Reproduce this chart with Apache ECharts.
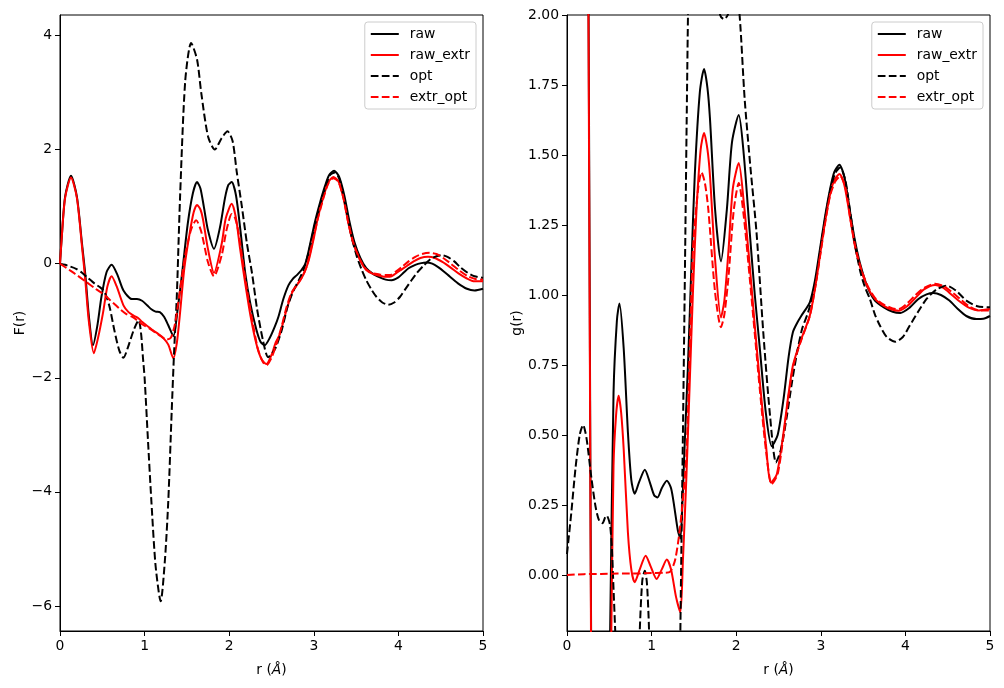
<!DOCTYPE html>
<html>
<head>
<meta charset="utf-8">
<script src="https://cdn.jsdelivr.net/npm/echarts@6/dist/echarts.min.js"></script>
<style>
  html, body { margin: 0; padding: 0; background: #fff; }
  #main { width: 1004px; height: 688px; }
</style>
</head>
<body>
<div id="main"></div>
<script>
// ---- data: [r, value] ----
var names = ['raw', 'raw_extr', 'opt', 'extr_opt'];
var xTicks = [0, 1, 2, 3, 4, 5];
var fTicks = [-6, -4, -2, 0, 2, 4];
var gTicks = [0, 0.25, 0.5, 0.75, 1, 1.25, 1.5, 1.75, 2];

// left panel, F(r)
var rawF = [[0,0],[0.02,0.45],[0.06,1.17],[0.13,1.54],[0.2,1.17],[0.26,0.35],[0.3,-0.2],[0.34,-0.9],[0.39,-1.43],[0.44,-1.1],[0.49,-0.58],[0.55,-0.15],[0.61,-0.02],[0.68,-0.2],[0.75,-0.47],[0.85,-0.62],[0.91,-0.62],[0.97,-0.65],[1.03,-0.73],[1.08,-0.8],[1.13,-0.84],[1.18,-0.85],[1.23,-0.93],[1.28,-1.08],[1.34,-1.27],[1.39,-0.81],[1.45,-0.08],[1.51,0.7],[1.57,1.23],[1.62,1.43],[1.66,1.32],[1.7,1.0],[1.75,0.58],[1.82,0.26],[1.89,0.63],[1.95,1.15],[1.99,1.38],[2.03,1.43],[2.08,1.2],[2.13,0.62],[2.19,-0.17],[2.25,-0.7],[2.32,-1.15],[2.37,-1.37],[2.42,-1.43],[2.48,-1.3],[2.54,-1.1],[2.58,-0.94],[2.64,-0.62],[2.7,-0.38],[2.75,-0.27],[2.8,-0.2],[2.85,-0.12],[2.9,0.0],[2.95,0.3],[3.01,0.71],[3.07,1.05],[3.13,1.35],[3.18,1.55],[3.24,1.63],[3.3,1.52],[3.36,1.2],[3.42,0.75],[3.48,0.38],[3.55,0.1],[3.62,-0.08],[3.7,-0.18],[3.78,-0.24],[3.85,-0.28],[3.92,-0.29],[4.0,-0.24],[4.06,-0.16],[4.12,-0.08],[4.2,-0.02],[4.27,0.01],[4.33,0.02],[4.4,0.0],[4.47,-0.06],[4.54,-0.14],[4.61,-0.23],[4.7,-0.34],[4.81,-0.44],[4.9,-0.47],[5.0,-0.44]];
var rawExtrF = [[0,0],[0.02,0.45],[0.06,1.15],[0.13,1.51],[0.2,1.15],[0.26,0.3],[0.3,-0.3],[0.34,-1.0],[0.4,-1.57],[0.45,-1.3],[0.51,-0.85],[0.56,-0.4],[0.61,-0.22],[0.67,-0.4],[0.75,-0.73],[0.81,-0.85],[0.87,-0.91],[0.93,-0.96],[0.97,-1.02],[1.04,-1.1],[1.1,-1.17],[1.16,-1.23],[1.22,-1.3],[1.28,-1.42],[1.34,-1.66],[1.38,-1.4],[1.41,-1.0],[1.47,-0.08],[1.53,0.51],[1.58,0.9],[1.62,1.03],[1.66,0.95],[1.69,0.78],[1.75,0.25],[1.82,-0.16],[1.91,0.34],[1.96,0.8],[2.03,1.05],[2.08,0.8],[2.13,0.25],[2.19,-0.35],[2.25,-0.9],[2.32,-1.4],[2.38,-1.67],[2.44,-1.76],[2.5,-1.6],[2.55,-1.38],[2.6,-1.23],[2.67,-0.85],[2.74,-0.52],[2.79,-0.4],[2.84,-0.29],[2.89,-0.15],[2.94,0.06],[3.0,0.45],[3.05,0.82],[3.11,1.15],[3.17,1.42],[3.23,1.52],[3.29,1.45],[3.35,1.15],[3.41,0.7],[3.47,0.35],[3.55,0.05],[3.62,-0.11],[3.7,-0.18],[3.78,-0.21],[3.85,-0.23],[3.9,-0.23],[3.97,-0.17],[4.04,-0.1],[4.1,-0.04],[4.18,0.04],[4.26,0.1],[4.35,0.12],[4.43,0.1],[4.52,0.03],[4.61,-0.06],[4.71,-0.17],[4.81,-0.26],[4.9,-0.31],[5.0,-0.31]];
var optF = [[0,0],[0.06,-0.02],[0.12,-0.05],[0.19,-0.09],[0.26,-0.16],[0.33,-0.25],[0.41,-0.35],[0.47,-0.41],[0.51,-0.46],[0.55,-0.58],[0.59,-0.78],[0.64,-1.15],[0.7,-1.52],[0.75,-1.65],[0.8,-1.48],[0.87,-1.17],[0.93,-0.99],[0.96,-1.25],[0.98,-1.64],[1.0,-2.0],[1.04,-3.1],[1.08,-4.16],[1.13,-5.3],[1.19,-5.92],[1.24,-5.2],[1.28,-4.16],[1.32,-2.6],[1.35,-1.5],[1.38,-0.6],[1.42,1.2],[1.48,3.2],[1.55,3.87],[1.62,3.58],[1.67,2.99],[1.75,2.23],[1.83,2.0],[1.91,2.2],[1.98,2.32],[2.04,2.15],[2.09,1.6],[2.15,1.0],[2.21,0.35],[2.27,-0.17],[2.33,-0.8],[2.4,-1.35],[2.46,-1.64],[2.54,-1.5],[2.62,-1.17],[2.69,-0.75],[2.76,-0.47],[2.82,-0.3],[2.88,-0.1],[2.94,0.2],[3.0,0.6],[3.07,1.0],[3.13,1.3],[3.19,1.55],[3.25,1.6],[3.31,1.45],[3.39,0.9],[3.45,0.45],[3.51,0.12],[3.57,-0.12],[3.62,-0.29],[3.68,-0.45],[3.74,-0.58],[3.81,-0.68],[3.88,-0.72],[3.95,-0.68],[4.02,-0.58],[4.08,-0.45],[4.15,-0.3],[4.22,-0.16],[4.3,-0.03],[4.38,0.08],[4.45,0.13],[4.51,0.15],[4.58,0.12],[4.66,0.04],[4.73,-0.06],[4.82,-0.16],[4.9,-0.22],[5.0,-0.25]];
var extrOptF = [[0,0],[0.1,-0.1],[0.18,-0.18],[0.3,-0.31],[0.41,-0.43],[0.47,-0.49],[0.53,-0.55],[0.6,-0.65],[0.66,-0.73],[0.71,-0.8],[0.78,-0.88],[0.85,-0.93],[0.91,-0.99],[0.98,-1.07],[1.05,-1.13],[1.12,-1.2],[1.19,-1.27],[1.26,-1.33],[1.31,-1.3],[1.36,-1.05],[1.42,-0.45],[1.48,0.15],[1.55,0.6],[1.61,0.76],[1.67,0.56],[1.75,0.02],[1.82,-0.22],[1.91,0.14],[1.97,0.6],[2.03,0.87],[2.07,0.8],[2.11,0.55],[2.15,0.15],[2.21,-0.45],[2.28,-1.05],[2.34,-1.5],[2.4,-1.73],[2.44,-1.78],[2.5,-1.65],[2.56,-1.4],[2.62,-1.1],[2.68,-0.75],[2.74,-0.5],[2.8,-0.37],[2.86,-0.24],[2.92,-0.03],[2.98,0.35],[3.05,0.8],[3.11,1.13],[3.17,1.4],[3.23,1.5],[3.29,1.44],[3.35,1.15],[3.41,0.7],[3.47,0.35],[3.55,0.06],[3.62,-0.1],[3.7,-0.17],[3.78,-0.19],[3.85,-0.2],[3.9,-0.2],[3.97,-0.14],[4.04,-0.06],[4.12,0.04],[4.2,0.12],[4.28,0.17],[4.37,0.19],[4.45,0.17],[4.53,0.1],[4.62,0.0],[4.72,-0.12],[4.82,-0.22],[4.91,-0.27],[5.0,-0.28]];

// right panel, g(r)
var rawG = [[0.06,19],[0.13,11.9],[0.2,6.4],[0.24,3.0],[0.255,2.0],[0.27,0.9],[0.285,-0.2],[0.31,-1.0],[0.39,-2.4],[0.45,-1.4],[0.51,-0.2],[0.55,0.65],[0.59,0.91],[0.62,0.97],[0.67,0.81],[0.72,0.51],[0.76,0.34],[0.8,0.29],[0.85,0.33],[0.92,0.376],[0.98,0.33],[1.03,0.285],[1.07,0.277],[1.12,0.31],[1.18,0.337],[1.23,0.31],[1.27,0.24],[1.31,0.16],[1.34,0.13],[1.37,0.3],[1.39,0.46],[1.43,0.75],[1.47,1.1],[1.51,1.426],[1.57,1.724],[1.62,1.807],[1.66,1.74],[1.69,1.63],[1.75,1.307],[1.82,1.12],[1.89,1.307],[1.95,1.545],[2.03,1.643],[2.09,1.5],[2.16,1.224],[2.22,1.0],[2.28,0.807],[2.35,0.58],[2.42,0.46],[2.49,0.5],[2.56,0.63],[2.62,0.78],[2.67,0.867],[2.72,0.9],[2.77,0.926],[2.87,0.974],[2.93,1.05],[2.99,1.164],[3.05,1.28],[3.11,1.379],[3.16,1.44],[3.22,1.465],[3.28,1.42],[3.35,1.29],[3.4,1.2],[3.46,1.117],[3.55,1.03],[3.64,0.98],[3.75,0.955],[3.85,0.94],[3.94,0.936],[4.05,0.955],[4.15,0.985],[4.25,1.002],[4.33,1.007],[4.42,1.0],[4.52,0.98],[4.62,0.95],[4.72,0.925],[4.84,0.914],[4.92,0.915],[5.0,0.925]];
var rawExtrG = [[0.06,19],[0.13,11.6],[0.2,6.3],[0.24,2.8],[0.255,1.9],[0.27,0.8],[0.285,-0.3],[0.31,-1.2],[0.4,-2.6],[0.46,-1.7],[0.52,-0.3],[0.55,0.39],[0.58,0.57],[0.61,0.64],[0.64,0.58],[0.67,0.45],[0.72,0.152],[0.76,0.02],[0.8,-0.026],[0.86,0.02],[0.93,0.069],[0.99,0.03],[1.06,-0.014],[1.12,0.02],[1.18,0.055],[1.23,0.02],[1.29,-0.08],[1.34,-0.133],[1.37,0.05],[1.41,0.34],[1.45,0.68],[1.49,1.02],[1.53,1.3],[1.58,1.52],[1.62,1.579],[1.66,1.52],[1.69,1.426],[1.75,1.129],[1.82,0.92],[1.86,0.98],[1.91,1.164],[1.96,1.38],[2.03,1.471],[2.09,1.33],[2.16,1.105],[2.22,0.89],[2.28,0.688],[2.35,0.47],[2.41,0.33],[2.48,0.36],[2.56,0.51],[2.62,0.65],[2.67,0.748],[2.72,0.8],[2.77,0.843],[2.87,0.926],[2.93,1.02],[2.99,1.14],[3.05,1.26],[3.11,1.36],[3.16,1.41],[3.22,1.432],[3.28,1.39],[3.35,1.27],[3.4,1.18],[3.46,1.105],[3.55,1.03],[3.64,0.986],[3.75,0.96],[3.84,0.948],[3.92,0.944],[4.02,0.96],[4.12,0.99],[4.22,1.02],[4.35,1.036],[4.45,1.025],[4.55,1.0],[4.65,0.975],[4.75,0.955],[4.87,0.945],[5.0,0.95]];
var optG = [[0,0.075],[0.05,0.22],[0.1,0.38],[0.15,0.5],[0.19,0.536],[0.23,0.49],[0.29,0.343],[0.34,0.24],[0.38,0.194],[0.42,0.185],[0.45,0.205],[0.47,0.212],[0.49,0.2],[0.51,0.176],[0.53,0.1],[0.55,-0.05],[0.57,-0.2],[0.6,-0.45],[0.66,-0.9],[0.75,-1.03],[0.8,-0.75],[0.84,-0.45],[0.86,-0.2],[0.89,-0.02],[0.92,0.015],[0.945,-0.03],[0.97,-0.2],[0.99,-0.55],[1.02,-1.2],[1.1,-2.8],[1.19,-3.6],[1.28,-2.0],[1.34,-0.2],[1.37,0.5],[1.39,0.986],[1.43,2.0],[1.48,3.0],[1.55,3.3],[1.62,3.0],[1.7,2.4],[1.76,2.12],[1.81,2.0],[1.855,1.985],[1.9,2.0],[1.95,2.06],[2.0,2.07],[2.04,2.0],[2.1,1.7],[2.17,1.45],[2.24,1.224],[2.32,0.867],[2.4,0.569],[2.47,0.402],[2.53,0.45],[2.6,0.569],[2.66,0.69],[2.72,0.795],[2.78,0.88],[2.85,0.938],[2.93,1.03],[2.99,1.15],[3.05,1.27],[3.11,1.37],[3.17,1.435],[3.23,1.455],[3.29,1.41],[3.35,1.29],[3.41,1.17],[3.47,1.08],[3.52,1.03],[3.58,0.986],[3.64,0.93],[3.7,0.89],[3.78,0.85],[3.88,0.833],[3.97,0.85],[4.05,0.89],[4.15,0.94],[4.25,0.986],[4.37,1.02],[4.49,1.033],[4.6,1.015],[4.72,0.98],[4.85,0.96],[5.0,0.956]];
var extrOptG = [[0,0.0],[0.2,0.003],[0.4,0.004],[0.6,0.005],[0.8,0.005],[1.0,0.007],[1.15,0.008],[1.22,0.012],[1.28,0.056],[1.34,0.18],[1.41,0.42],[1.45,0.8],[1.49,1.17],[1.55,1.379],[1.59,1.438],[1.63,1.4],[1.67,1.307],[1.75,1.01],[1.82,0.885],[1.86,0.93],[1.91,1.069],[1.97,1.3],[2.03,1.4],[2.09,1.28],[2.16,1.06],[2.22,0.86],[2.28,0.66],[2.35,0.45],[2.42,0.325],[2.49,0.36],[2.56,0.5],[2.62,0.64],[2.67,0.74],[2.72,0.795],[2.77,0.84],[2.87,0.925],[2.93,1.02],[2.99,1.135],[3.05,1.255],[3.11,1.355],[3.17,1.405],[3.23,1.425],[3.29,1.385],[3.35,1.27],[3.41,1.17],[3.47,1.1],[3.55,1.035],[3.64,0.99],[3.75,0.965],[3.85,0.952],[3.92,0.95],[4.02,0.97],[4.12,1.0],[4.22,1.025],[4.35,1.04],[4.45,1.032],[4.55,1.01],[4.65,0.985],[4.75,0.96],[4.87,0.945],[5.0,0.945]];

var FONT = 'DejaVu Sans';
var FS = 13.9;
var dash = [7.7, 3.3];

function xAxisOf(gi) {
    return {
        type: 'value', gridIndex: gi, min: 0, max: 5, interval: 1,
        name: 'r ({i|Å})', nameLocation: 'middle', nameGap: 32,
        nameTextStyle: { color: '#000', fontFamily: FONT, fontSize: FS,
            rich: { i: { fontStyle: 'italic', fontFamily: FONT, fontSize: FS, color: '#000' } } },
        axisLine: { show: true, onZero: false, lineStyle: { color: '#000', width: 1 } },
        axisTick: { show: true, length: 5, lineStyle: { color: '#000' }, customValues: xTicks },
        axisLabel: { color: '#000', fontFamily: FONT, fontSize: FS, margin: 8, customValues: xTicks },
        splitLine: { show: false }
    };
}

function yAxisOf(gi, min, max, ticks, label, gap, fmt) {
    return {
        type: 'value', gridIndex: gi, min: min, max: max,
        name: label, nameLocation: 'middle', nameGap: gap,
        nameTextStyle: { color: '#000', fontFamily: FONT, fontSize: FS },
        axisLine: { show: true, onZero: false, lineStyle: { color: '#000', width: 1 } },
        axisTick: { show: true, length: 5, lineStyle: { color: '#000' }, customValues: ticks },
        axisLabel: { color: '#000', fontFamily: FONT, fontSize: FS, margin: 8, customValues: ticks, formatter: fmt },
        splitLine: { show: false }
    };
}

function line(name, data, gi, color, dashed) {
    return {
        name: name, type: 'line', xAxisIndex: gi, yAxisIndex: gi,
        data: data, smooth: 0.25, symbol: 'none', clip: true,
        lineStyle: { color: color, width: 2, type: dashed ? dash : 'solid' },
        itemStyle: { color: color },
        emphasis: { disabled: true }, animation: false
    };
}

function legendOf(right) {
    return {
        orient: 'vertical', right: right, top: 22,
        data: names,
        itemWidth: 28, itemHeight: 14, itemGap: 7,
        padding: [5, 6, 5, 5],
        backgroundColor: 'rgba(255,255,255,0.8)',
        borderColor: '#cccccc', borderWidth: 1, borderRadius: 3,
        // hide the circle ECharts adds to line legend icons
        itemStyle: { opacity: 0 },
        textStyle: { color: '#000', fontFamily: FONT, fontSize: FS, padding: [0, 0, 0, 6] }
    };
}

var chart = echarts.init(document.getElementById('main'), null, { renderer: 'canvas' });
chart.setOption({
    animation: false,
    backgroundColor: '#fff',
    grid: [
        { left: 60, top: 15, width: 423, height: 616, show: true, borderColor: '#000', borderWidth: 1, backgroundColor: 'transparent' },
        { left: 567, top: 15, width: 423, height: 616, show: true, borderColor: '#000', borderWidth: 1, backgroundColor: 'transparent' }
    ],
    legend: [legendOf(528), legendOf(21)],
    xAxis: [xAxisOf(0), xAxisOf(1)],
    yAxis: [
        yAxisOf(0, -6.44, 4.36, fTicks, 'F(r)', 30, function (v) { return String(v).replace('-', '\u2212'); }),
        yAxisOf(1, -0.2, 2.0, gTicks, 'g(r)', 40, function (v) { return v.toFixed(2); })
    ],
    series: [
        line('raw', rawF, 0, '#000000', false),
        line('raw_extr', rawExtrF, 0, '#ff0000', false),
        line('opt', optF, 0, '#000000', true),
        line('extr_opt', extrOptF, 0, '#ff0000', true),
        line('raw', rawG, 1, '#000000', false),
        line('raw_extr', rawExtrG, 1, '#ff0000', false),
        line('opt', optG, 1, '#000000', true),
        line('extr_opt', extrOptG, 1, '#ff0000', true)
    ]
});
</script>
</body>
</html>
